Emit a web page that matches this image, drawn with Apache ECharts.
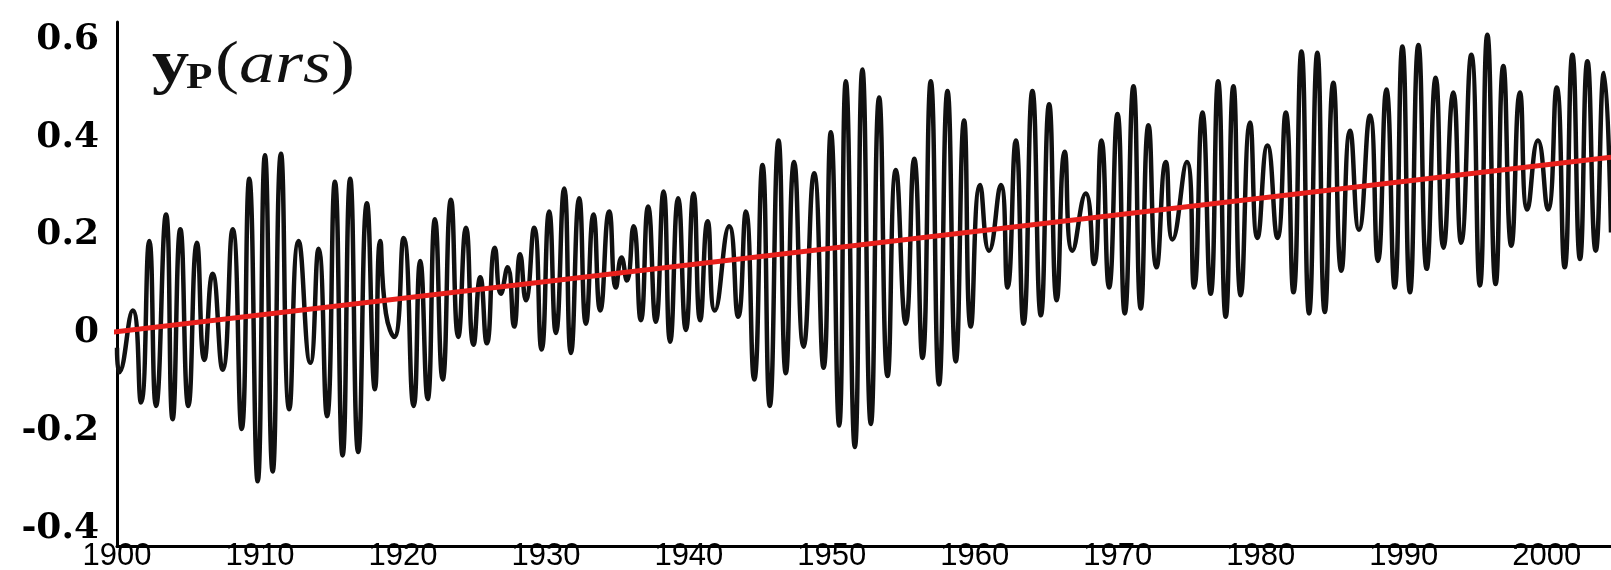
<!DOCTYPE html>
<html>
<head>
<meta charset="utf-8">
<script src="https://cdn.jsdelivr.net/npm/echarts@6/dist/echarts.min.js"></script>
<style>
html,body{margin:0;padding:0;background:#fff;}
#chart{width:1611px;height:570px;}
</style>
</head>
<body>
<div id="chart"></div>
<script>
// Polar motion y-coordinate (arc seconds) (peaks and troughs)
const years = [
1900.00,1900.16,1901.10,1901.68,1902.26,1902.73,1903.43,1903.89,1904.43,1904.99,
1905.59,1906.11,1906.69,1907.39,1908.09,1908.72,1909.25,1909.84,1910.35,1910.89,
1911.47,1912.05,1912.70,1913.52,1914.10,1914.69,1915.24,1915.78,1916.31,1916.87,
1917.48,1918.04,1918.41,1918.81,1919.39,1920.05,1920.75,1921.21,1921.73,1922.24,
1922.78,1923.36,1923.87,1924.41,1924.94,1925.41,1925.87,1926.43,1926.85,1927.32,
1927.78,1928.20,1928.60,1929.18,1929.70,1930.23,1930.70,1931.28,1931.75,1932.33,
1932.80,1933.33,1933.80,1934.43,1934.90,1935.29,1935.66,1936.13,1936.64,1937.15,
1937.69,1938.23,1938.69,1939.25,1939.79,1940.33,1940.79,1941.31,1941.82,1942.82,
1943.45,1943.99,1944.57,1945.15,1945.66,1946.27,1946.78,1947.36,1948.02,1948.76,
1949.42,1949.93,1950.51,1950.98,1951.61,1952.14,1952.73,1953.31,1953.90,1954.48,
1955.17,1955.76,1956.34,1956.92,1957.50,1958.09,1958.67,1959.25,1959.72,1960.37,
1961.00,1961.82,1962.29,1962.87,1963.41,1964.03,1964.62,1965.20,1965.73,1966.29,
1966.83,1967.76,1968.34,1968.86,1969.39,1969.98,1970.49,1971.10,1971.61,1972.15,
1972.71,1973.36,1973.83,1974.83,1975.34,1975.92,1976.50,1977.02,1977.55,1978.09,
1978.60,1979.25,1979.77,1980.47,1981.17,1981.75,1982.29,1982.85,1983.38,1983.96,
1984.48,1985.08,1985.64,1986.25,1986.87,1987.64,1988.20,1988.79,1989.37,1989.91,
1990.44,1991.03,1991.61,1992.24,1992.78,1993.47,1994.02,1994.73,1995.33,1995.85,
1996.43,1996.97,1997.53,1998.13,1998.65,1999.39,2000.09,2000.70,2001.26,2001.80,
2002.33,2002.85,2003.43,2004.01,2004.50
];
const yp = [
-0.040,-0.090,0.036,-0.152,0.178,-0.159,0.232,-0.186,0.202,-0.159,
0.174,-0.065,0.111,-0.085,0.202,-0.206,0.305,-0.313,0.353,-0.293,
0.356,-0.166,0.178,-0.071,0.162,-0.180,0.299,-0.260,0.305,-0.253,
0.255,-0.125,0.178,0.030,-0.018,0.184,-0.159,0.137,-0.145,0.222,
-0.105,0.262,-0.018,0.205,-0.034,0.104,-0.031,0.164,0.070,0.124,
0.003,0.151,0.057,0.205,-0.044,0.238,-0.010,0.285,-0.051,0.265,
0.009,0.232,0.036,0.238,0.083,0.144,0.097,0.208,0.016,0.248,
0.013,0.279,-0.028,0.265,-0.004,0.275,0.016,0.218,0.036,0.208,
0.023,0.238,-0.105,0.333,-0.159,0.383,-0.092,0.339,-0.038,0.316,
-0.081,0.400,-0.199,0.504,-0.243,0.528,-0.196,0.471,-0.098,0.323,
0.009,0.346,-0.061,0.504,-0.115,0.484,-0.068,0.424,0.003,0.292,
0.158,0.292,0.083,0.383,0.009,0.484,0.026,0.457,0.057,0.360,
0.158,0.275,0.131,0.383,0.083,0.437,0.030,0.494,0.040,0.414,
0.124,0.339,0.181,0.339,0.083,0.440,0.070,0.504,0.023,0.494,
0.067,0.420,0.184,0.373,0.184,0.440,0.073,0.565,0.030,0.562,
0.033,0.501,0.117,0.403,0.201,0.434,0.137,0.487,0.083,0.575,
0.073,0.578,0.121,0.511,0.164,0.481,0.174,0.558,0.087,0.599,
0.090,0.535,0.168,0.481,0.242,0.383,0.242,0.491,0.124,0.558,
0.141,0.545,0.158,0.521,0.195
];
// Linear trend (red line) end points
const trendYears = [1899.5, 2004.5];
const trendValues = [-0.009, 0.349];
// Axis tick labels
const xTickLabels = [1900,1910,1920,1930,1940,1950,1960,1970,1980,1990,2000];
const yTickLabels = [-0.4,-0.2,0,0.2,0.4,0.6];

const chart = echarts.init(document.getElementById('chart'), null, {renderer:'canvas'});
const s = 1.2;
chart.setOption({
  animation:false,
  backgroundColor:'#fff',
  grid:{left:117,right:0,top:22,bottom:24,containLabel:false,outerBoundsMode:'none'},
  xAxis:{
    type:'value',min:1900,max:2004.5,interval:10,
    axisLine:{show:true,onZero:false,lineStyle:{color:'#000',width:3}},
    axisTick:{show:false},splitLine:{show:false},
    axisLabel:{customValues:xTickLabels,formatter:v=>String(v),align:'center',verticalAlign:'top',lineHeight:10,
      alignMinLabel:'center',alignMaxLabel:'center',hideOverlap:false,
      fontFamily:'Liberation Sans',fontSize:31,color:'#000',margin:5}
  },
  yAxis:{
    type:'value',min:-0.445,max:0.625,
    axisLine:{show:true,onZero:false,lineStyle:{color:'#000',width:3}},
    axisTick:{show:false},splitLine:{show:false},
    axisLabel:{customValues:yTickLabels,formatter:v=>String(v),verticalAlign:'top',lineHeight:10,
      fontFamily:'DejaVu Serif',fontWeight:'bold',fontSize:36,color:'#000',margin:18}
  },
  graphic:[{
    type:'group',x:152,y:0,scaleX:s,scaleY:1,
    children:[
      {type:'text',x:0,y:66,style:{text:'y',font:'bold 62px "Liberation Serif"',fill:'#111',verticalAlign:'middle'}},
      {type:'text',x:(186-152)/s,y:79,style:{text:'P',font:'bold 36px "Liberation Serif"',fill:'#111',verticalAlign:'middle'}},
      {type:'text',x:(215-152)/s,y:66,style:{text:'{o|(}{i|ars}{o|)}',verticalAlign:'middle',
        rich:{o:{font:'60px "Liberation Serif"',fill:'#111'},i:{font:'italic 60px "Liberation Serif"',fill:'#111'}}}}
    ]
  }],
  series:[
    {type:'line',data:years.map((y,i)=>[y,yp[i]]),showSymbol:false,smooth:0.55,
      lineStyle:{color:'#111',width:4.5},z:2},
    {type:'line',data:trendYears.map((y,i)=>[y,trendValues[i]]),showSymbol:false,clip:false,
      lineStyle:{color:'#e8201c',width:5},z:3}
  ]
});
</script>
</body>
</html>
